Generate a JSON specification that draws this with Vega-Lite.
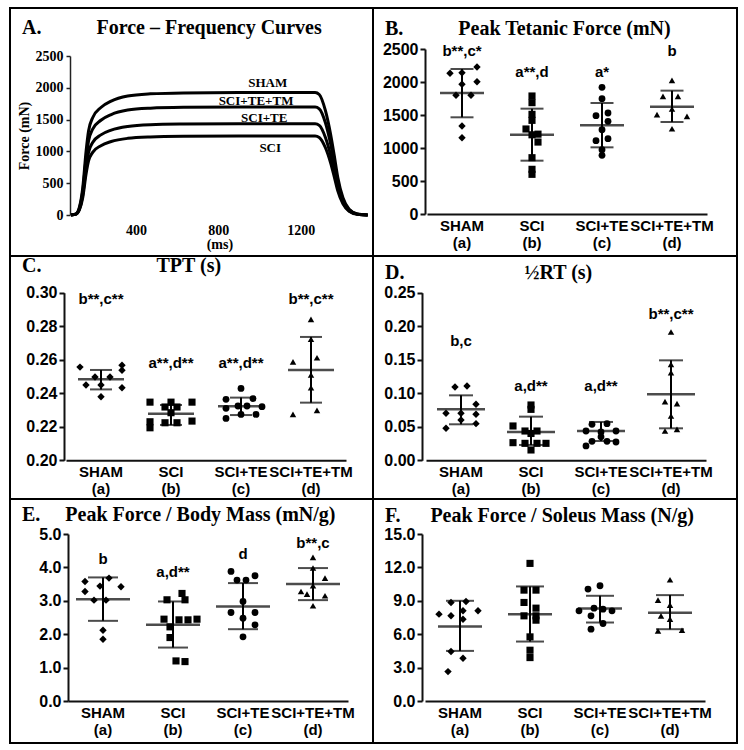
{
"$schema": "https://vega.github.io/schema/vega-lite/v6.json",
"background": "white",
"padding": {"left": 9, "top": 7, "right": 8, "bottom": 8},
"bounds": "flush",
"spacing": 0,
"columns": 2,
"config": {"view": {"stroke": "black", "strokeWidth": 2}, "axis": {"grid": false}},
"datasets": {
"curves": [
{"g":"SHAM","t":85,"v":0},{"g":"SHAM","t":110,"v":20},{"g":"SHAM","t":125,"v":115},{"g":"SHAM","t":142,"v":430},{"g":"SHAM","t":158,"v":1000},{"g":"SHAM","t":170,"v":1320},{"g":"SHAM","t":190,"v":1530},{"g":"SHAM","t":230,"v":1690},{"g":"SHAM","t":280,"v":1790},{"g":"SHAM","t":360,"v":1870},{"g":"SHAM","t":470,"v":1905},{"g":"SHAM","t":630,"v":1920},{"g":"SHAM","t":900,"v":1925},{"g":"SHAM","t":1270,"v":1925},{"g":"SHAM","t":1290,"v":1895},{"g":"SHAM","t":1320,"v":1640},{"g":"SHAM","t":1345,"v":1270},{"g":"SHAM","t":1362,"v":950},{"g":"SHAM","t":1380,"v":590},{"g":"SHAM","t":1405,"v":270},{"g":"SHAM","t":1435,"v":90},{"g":"SHAM","t":1475,"v":16},{"g":"SHAM","t":1525,"v":0},
{"g":"TM","t":85,"v":0},{"g":"TM","t":110,"v":18},{"g":"TM","t":125,"v":100},{"g":"TM","t":142,"v":380},{"g":"TM","t":158,"v":880},{"g":"TM","t":170,"v":1165},{"g":"TM","t":190,"v":1350},{"g":"TM","t":230,"v":1490},{"g":"TM","t":280,"v":1580},{"g":"TM","t":360,"v":1650},{"g":"TM","t":470,"v":1680},{"g":"TM","t":630,"v":1693},{"g":"TM","t":900,"v":1698},{"g":"TM","t":1270,"v":1698},{"g":"TM","t":1290,"v":1670},{"g":"TM","t":1320,"v":1450},{"g":"TM","t":1345,"v":1120},{"g":"TM","t":1362,"v":840},{"g":"TM","t":1380,"v":520},{"g":"TM","t":1405,"v":240},{"g":"TM","t":1435,"v":80},{"g":"TM","t":1475,"v":14},{"g":"TM","t":1525,"v":0},
{"g":"TE","t":85,"v":0},{"g":"TE","t":110,"v":15},{"g":"TE","t":125,"v":86},{"g":"TE","t":142,"v":320},{"g":"TE","t":158,"v":745},{"g":"TE","t":170,"v":985},{"g":"TE","t":190,"v":1140},{"g":"TE","t":230,"v":1260},{"g":"TE","t":280,"v":1335},{"g":"TE","t":360,"v":1393},{"g":"TE","t":470,"v":1420},{"g":"TE","t":630,"v":1430},{"g":"TE","t":900,"v":1435},{"g":"TE","t":1270,"v":1435},{"g":"TE","t":1290,"v":1410},{"g":"TE","t":1320,"v":1220},{"g":"TE","t":1345,"v":945},{"g":"TE","t":1362,"v":710},{"g":"TE","t":1380,"v":440},{"g":"TE","t":1405,"v":200},{"g":"TE","t":1435,"v":67},{"g":"TE","t":1475,"v":12},{"g":"TE","t":1525,"v":0},
{"g":"SCI","t":85,"v":0},{"g":"SCI","t":110,"v":13},{"g":"SCI","t":125,"v":74},{"g":"SCI","t":142,"v":277},{"g":"SCI","t":158,"v":645},{"g":"SCI","t":170,"v":850},{"g":"SCI","t":190,"v":985},{"g":"SCI","t":230,"v":1090},{"g":"SCI","t":280,"v":1155},{"g":"SCI","t":360,"v":1205},{"g":"SCI","t":470,"v":1228},{"g":"SCI","t":630,"v":1238},{"g":"SCI","t":900,"v":1242},{"g":"SCI","t":1270,"v":1242},{"g":"SCI","t":1290,"v":1220},{"g":"SCI","t":1320,"v":1057},{"g":"SCI","t":1345,"v":820},{"g":"SCI","t":1362,"v":612},{"g":"SCI","t":1380,"v":380},{"g":"SCI","t":1405,"v":174},{"g":"SCI","t":1435,"v":58},{"g":"SCI","t":1475,"v":10},{"g":"SCI","t":1525,"v":0}
],
"clab": [
{"label":"SHAM","t":1040,"v":2075},{"label":"SCI+TE+TM","t":983,"v":1792},{"label":"SCI+TE","t":1023,"v":1520},{"label":"SCI","t":1052,"v":1058}
],
"pts": [
{"p":"B","g":"SHAM","v":2227,"s":5},{"p":"B","g":"SHAM","v":2132,"s":-4},{"p":"B","g":"SHAM","v":2141,"s":0},{"p":"B","g":"SHAM","v":1965,"s":0},{"p":"B","g":"SHAM","v":2005,"s":5},{"p":"B","g":"SHAM","v":1798,"s":-2},{"p":"B","g":"SHAM","v":1798,"s":3},{"p":"B","g":"SHAM","v":1333,"s":0},{"p":"B","g":"SHAM","v":1156,"s":0},
{"p":"B","g":"SCI","v":1788,"s":0},{"p":"B","g":"SCI","v":1687,"s":0},{"p":"B","g":"SCI","v":1510,"s":0},{"p":"B","g":"SCI","v":1419,"s":0},{"p":"B","g":"SCI","v":1288,"s":-2},{"p":"B","g":"SCI","v":1210,"s":2},{"p":"B","g":"SCI","v":1200,"s":0},{"p":"B","g":"SCI","v":1090,"s":2},{"p":"B","g":"SCI","v":853,"s":0},{"p":"B","g":"SCI","v":677,"s":0},{"p":"B","g":"SCI","v":601,"s":0},
{"p":"B","g":"SCI+TE","v":1919,"s":0},{"p":"B","g":"SCI+TE","v":1747,"s":0},{"p":"B","g":"SCI+TE","v":1490,"s":-2},{"p":"B","g":"SCI+TE","v":1530,"s":2},{"p":"B","g":"SCI+TE","v":1404,"s":2},{"p":"B","g":"SCI+TE","v":1278,"s":0},{"p":"B","g":"SCI+TE","v":1111,"s":-2},{"p":"B","g":"SCI+TE","v":1141,"s":2},{"p":"B","g":"SCI+TE","v":975,"s":0},{"p":"B","g":"SCI+TE","v":889,"s":0},
{"p":"B","g":"SCI+TE+TM","v":2025,"s":0},{"p":"B","g":"SCI+TE+TM","v":1783,"s":-3},{"p":"B","g":"SCI+TE+TM","v":1783,"s":2},{"p":"B","g":"SCI+TE+TM","v":1505,"s":-5},{"p":"B","g":"SCI+TE+TM","v":1480,"s":5},{"p":"B","g":"SCI+TE+TM","v":1591,"s":0},{"p":"B","g":"SCI+TE+TM","v":1292,"s":0},
{"p":"C","g":"SHAM","v":0.2556,"s":-7},{"p":"C","g":"SHAM","v":0.2567,"s":7},{"p":"C","g":"SHAM","v":0.2537,"s":7},{"p":"C","g":"SHAM","v":0.2433,"s":7},{"p":"C","g":"SHAM","v":0.2497,"s":-2},{"p":"C","g":"SHAM","v":0.2497,"s":3},{"p":"C","g":"SHAM","v":0.2449,"s":-5},{"p":"C","g":"SHAM","v":0.2449,"s":0},{"p":"C","g":"SHAM","v":0.2379,"s":0},
{"p":"C","g":"SCI","v":0.2347,"s":-7},{"p":"C","g":"SCI","v":0.2347,"s":0},{"p":"C","g":"SCI","v":0.2347,"s":7},{"p":"C","g":"SCI","v":0.2318,"s":-2},{"p":"C","g":"SCI","v":0.2318,"s":2},{"p":"C","g":"SCI","v":0.2284,"s":0},{"p":"C","g":"SCI","v":0.2234,"s":7},{"p":"C","g":"SCI","v":0.2230,"s":-7},{"p":"C","g":"SCI","v":0.2194,"s":-7},{"p":"C","g":"SCI","v":0.2224,"s":-2},{"p":"C","g":"SCI","v":0.2224,"s":2},
{"p":"C","g":"SCI+TE","v":0.2429,"s":0},{"p":"C","g":"SCI+TE","v":0.2364,"s":-5},{"p":"C","g":"SCI+TE","v":0.2368,"s":4},{"p":"C","g":"SCI+TE","v":0.2310,"s":-5},{"p":"C","g":"SCI+TE","v":0.2324,"s":-1},{"p":"C","g":"SCI+TE","v":0.2324,"s":2},{"p":"C","g":"SCI+TE","v":0.2320,"s":7},{"p":"C","g":"SCI+TE","v":0.2250,"s":-5},{"p":"C","g":"SCI+TE","v":0.2274,"s":0},{"p":"C","g":"SCI+TE","v":0.2274,"s":5},
{"p":"C","g":"SCI+TE+TM","v":0.2841,"s":0},{"p":"C","g":"SCI+TE+TM","v":0.2722,"s":0},{"p":"C","g":"SCI+TE+TM","v":0.2587,"s":-6},{"p":"C","g":"SCI+TE+TM","v":0.2612,"s":2},{"p":"C","g":"SCI+TE+TM","v":0.2509,"s":0},{"p":"C","g":"SCI+TE+TM","v":0.2433,"s":0},{"p":"C","g":"SCI+TE+TM","v":0.2274,"s":-6},{"p":"C","g":"SCI+TE+TM","v":0.2298,"s":2},
{"p":"D","g":"SHAM","v":0.1093,"s":-2},{"p":"D","g":"SHAM","v":0.1108,"s":2},{"p":"D","g":"SHAM","v":0.0835,"s":5},{"p":"D","g":"SHAM","v":0.0701,"s":-5},{"p":"D","g":"SHAM","v":0.0701,"s":0},{"p":"D","g":"SHAM","v":0.0601,"s":0},{"p":"D","g":"SHAM","v":0.0547,"s":5},{"p":"D","g":"SHAM","v":0.0477,"s":-5},{"p":"D","g":"SHAM","v":0.0686,"s":5},
{"p":"D","g":"SCI","v":0.0825,"s":0},{"p":"D","g":"SCI","v":0.0760,"s":0},{"p":"D","g":"SCI","v":0.0512,"s":-6},{"p":"D","g":"SCI","v":0.0437,"s":-2},{"p":"D","g":"SCI","v":0.0437,"s":2},{"p":"D","g":"SCI","v":0.0263,"s":-6},{"p":"D","g":"SCI","v":0.0253,"s":-2},{"p":"D","g":"SCI","v":0.0253,"s":2},{"p":"D","g":"SCI","v":0.0253,"s":5},{"p":"D","g":"SCI","v":0.0154,"s":0},{"p":"D","g":"SCI","v":0.0400,"s":0},
{"p":"D","g":"SCI+TE","v":0.0537,"s":-3},{"p":"D","g":"SCI+TE","v":0.0547,"s":2},{"p":"D","g":"SCI+TE","v":0.0437,"s":-5},{"p":"D","g":"SCI+TE","v":0.0437,"s":5},{"p":"D","g":"SCI+TE","v":0.0422,"s":0},{"p":"D","g":"SCI+TE","v":0.0283,"s":-3},{"p":"D","g":"SCI+TE","v":0.0283,"s":2},{"p":"D","g":"SCI+TE","v":0.0273,"s":5},{"p":"D","g":"SCI+TE","v":0.0214,"s":-5},{"p":"D","g":"SCI+TE","v":0.0350,"s":0},
{"p":"D","g":"SCI+TE+TM","v":0.1913,"s":0},{"p":"D","g":"SCI+TE+TM","v":0.1431,"s":0},{"p":"D","g":"SCI+TE+TM","v":0.1307,"s":0},{"p":"D","g":"SCI+TE+TM","v":0.0875,"s":-2},{"p":"D","g":"SCI+TE+TM","v":0.0845,"s":2},{"p":"D","g":"SCI+TE+TM","v":0.0661,"s":0},{"p":"D","g":"SCI+TE+TM","v":0.0437,"s":-2},{"p":"D","g":"SCI+TE+TM","v":0.0462,"s":2},
{"p":"E","g":"SHAM","v":3.58,"s":-6},{"p":"E","g":"SHAM","v":3.68,"s":2},{"p":"E","g":"SHAM","v":3.44,"s":-1},{"p":"E","g":"SHAM","v":3.42,"s":6},{"p":"E","g":"SHAM","v":3.28,"s":-6},{"p":"E","g":"SHAM","v":3.02,"s":-3},{"p":"E","g":"SHAM","v":3.02,"s":1},{"p":"E","g":"SHAM","v":2.12,"s":0},{"p":"E","g":"SHAM","v":1.85,"s":0},
{"p":"E","g":"SCI","v":3.22,"s":3},{"p":"E","g":"SCI","v":3.03,"s":-2},{"p":"E","g":"SCI","v":3.03,"s":4},{"p":"E","g":"SCI","v":2.45,"s":-3},{"p":"E","g":"SCI","v":2.43,"s":2},{"p":"E","g":"SCI","v":2.43,"s":5},{"p":"E","g":"SCI","v":2.45,"s":8},{"p":"E","g":"SCI","v":2.22,"s":-1},{"p":"E","g":"SCI","v":1.90,"s":-1},{"p":"E","g":"SCI","v":1.20,"s":1},{"p":"E","g":"SCI","v":1.18,"s":4},
{"p":"E","g":"SCI+TE","v":3.88,"s":-4},{"p":"E","g":"SCI+TE","v":3.75,"s":4},{"p":"E","g":"SCI+TE","v":3.62,"s":-2},{"p":"E","g":"SCI+TE","v":3.62,"s":1},{"p":"E","g":"SCI+TE","v":2.98,"s":0},{"p":"E","g":"SCI+TE","v":2.65,"s":-4},{"p":"E","g":"SCI+TE","v":2.65,"s":4},{"p":"E","g":"SCI+TE","v":2.48,"s":0},{"p":"E","g":"SCI+TE","v":2.28,"s":4},{"p":"E","g":"SCI+TE","v":1.92,"s":0},
{"p":"E","g":"SCI+TE+TM","v":4.30,"s":0},{"p":"E","g":"SCI+TE+TM","v":3.98,"s":0},{"p":"E","g":"SCI+TE+TM","v":3.68,"s":4},{"p":"E","g":"SCI+TE+TM","v":3.28,"s":-4},{"p":"E","g":"SCI+TE+TM","v":3.45,"s":0},{"p":"E","g":"SCI+TE+TM","v":3.15,"s":4},{"p":"E","g":"SCI+TE+TM","v":3.20,"s":-2},{"p":"E","g":"SCI+TE+TM","v":2.85,"s":0},
{"p":"F","g":"SHAM","v":8.85,"s":-3},{"p":"F","g":"SHAM","v":8.94,"s":2},{"p":"F","g":"SHAM","v":8.10,"s":1},{"p":"F","g":"SHAM","v":8.10,"s":6},{"p":"F","g":"SHAM","v":7.80,"s":-7},{"p":"F","g":"SHAM","v":7.65,"s":-3},{"p":"F","g":"SHAM","v":7.35,"s":1},{"p":"F","g":"SHAM","v":4.44,"s":-3},{"p":"F","g":"SHAM","v":3.84,"s":1},{"p":"F","g":"SHAM","v":2.64,"s":-4},
{"p":"F","g":"SCI","v":12.36,"s":0},{"p":"F","g":"SCI","v":9.96,"s":-2},{"p":"F","g":"SCI","v":9.96,"s":2},{"p":"F","g":"SCI","v":8.85,"s":-2},{"p":"F","g":"SCI","v":8.34,"s":2},{"p":"F","g":"SCI","v":7.65,"s":-2},{"p":"F","g":"SCI","v":7.65,"s":2},{"p":"F","g":"SCI","v":7.26,"s":2},{"p":"F","g":"SCI","v":5.76,"s":0},{"p":"F","g":"SCI","v":4.56,"s":0},{"p":"F","g":"SCI","v":3.90,"s":0},
{"p":"F","g":"SCI+TE","v":10.05,"s":-4},{"p":"F","g":"SCI+TE","v":10.35,"s":0},{"p":"F","g":"SCI+TE","v":8.10,"s":-7},{"p":"F","g":"SCI+TE","v":8.34,"s":-2},{"p":"F","g":"SCI+TE","v":8.25,"s":1},{"p":"F","g":"SCI+TE","v":8.10,"s":4},{"p":"F","g":"SCI+TE","v":7.65,"s":-3},{"p":"F","g":"SCI+TE","v":6.96,"s":1},{"p":"F","g":"SCI+TE","v":6.45,"s":-3},
{"p":"F","g":"SCI+TE+TM","v":10.89,"s":0},{"p":"F","g":"SCI+TE+TM","v":9.06,"s":-4},{"p":"F","g":"SCI+TE+TM","v":8.61,"s":0},{"p":"F","g":"SCI+TE+TM","v":7.65,"s":-3},{"p":"F","g":"SCI+TE+TM","v":7.35,"s":0},{"p":"F","g":"SCI+TE+TM","v":6.30,"s":-4},{"p":"F","g":"SCI+TE+TM","v":6.36,"s":4}
],
"sum": [
{"p":"B","g":"SHAM","m":1833,"lo":1465,"hi":2197},{"p":"B","g":"SCI","m":1202,"lo":808,"hi":1596},{"p":"B","g":"SCI+TE","m":1343,"lo":1010,"hi":1682},{"p":"B","g":"SCI+TE+TM","m":1626,"lo":1394,"hi":1869},
{"p":"C","g":"SHAM","m":0.2483,"lo":0.2423,"hi":0.2539},{"p":"C","g":"SCI","m":0.2278,"lo":0.2211,"hi":0.2330},{"p":"C","g":"SCI+TE","m":0.2322,"lo":0.2270,"hi":0.2374},{"p":"C","g":"SCI+TE+TM","m":0.2539,"lo":0.2344,"hi":0.2736},
{"p":"D","g":"SHAM","m":0.0760,"lo":0.0537,"hi":0.0969},{"p":"D","g":"SCI","m":0.0422,"lo":0.0229,"hi":0.0651},{"p":"D","g":"SCI+TE","m":0.0437,"lo":0.0288,"hi":0.0572},{"p":"D","g":"SCI+TE+TM","m":0.0984,"lo":0.0477,"hi":0.1491},
{"p":"E","g":"SHAM","m":3.05,"lo":2.40,"hi":3.70},{"p":"E","g":"SCI","m":2.28,"lo":1.60,"hi":2.98},{"p":"E","g":"SCI+TE","m":2.83,"lo":2.15,"hi":3.53},{"p":"E","g":"SCI+TE+TM","m":3.50,"lo":3.02,"hi":3.98},
{"p":"F","g":"SHAM","m":6.69,"lo":4.50,"hi":9.00},{"p":"F","g":"SCI","m":7.80,"lo":5.34,"hi":10.29},{"p":"F","g":"SCI+TE","m":8.31,"lo":7.05,"hi":9.45},{"p":"F","g":"SCI+TE+TM","m":7.92,"lo":6.45,"hi":9.51}
],
"ann": [
{"p":"B","g":"SHAM","t":"b**,c*","v":2475},{"p":"B","g":"SCI","t":"a**,d","v":2151},{"p":"B","g":"SCI+TE","t":"a*","v":2151},{"p":"B","g":"SCI+TE+TM","t":"b","v":2475},
{"p":"C","g":"SHAM","t":"b**,c**","v":0.2964},{"p":"C","g":"SCI","t":"a**,d**","v":0.2582},{"p":"C","g":"SCI+TE","t":"a**,d**","v":0.2582},{"p":"C","g":"SCI+TE+TM","t":"b**,c**","v":0.2964},
{"p":"D","g":"SHAM","t":"b,c","v":0.1779},{"p":"D","g":"SCI","t":"a,d**","v":0.1108},{"p":"D","g":"SCI+TE","t":"a,d**","v":0.1108},{"p":"D","g":"SCI+TE+TM","t":"b**,c**","v":0.2187},
{"p":"E","g":"SHAM","t":"b","v":4.25},{"p":"E","g":"SCI","t":"a,d**","v":3.85},{"p":"E","g":"SCI+TE","t":"d","v":4.40},{"p":"E","g":"SCI+TE+TM","t":"b**,c","v":4.72}
]
},
"concat": [
{
"width": 363, "height": 248,
"title": {"text": "A.\u00a0\u00a0\u00a0\u00a0\u00a0\u00a0\u00a0\u00a0\u00a0\u00a0\u00a0Force – Frequency Curves", "anchor": "start", "frame": "group", "dx": 12, "offset": -46, "baseline": "alphabetic", "font": "Liberation Serif", "fontSize": 20, "fontWeight": "bold", "color": "black"},
"layer": [
{"data": {"name": "curves"}, "mark": {"type": "line", "color": "black", "strokeWidth": 3, "interpolate": "monotone"},
"encoding": {
"x": {"field": "t", "type": "quantitative", "scale": {"domain": [80, 1530], "range": [60, 358.7], "nice": false, "zero": false}, "axis": {"orient": "bottom", "offset": -41, "values": [400, 800, 1200], "format": "d", "domain": false, "ticks": false, "labelFont": "Liberation Serif", "labelFontSize": 14, "labelFontWeight": "bold", "labelColor": "black", "labelPadding": 8, "title": "(ms)", "titleFont": "Liberation Serif", "titleFontSize": 14, "titleFontWeight": "bold", "titleColor": "black", "titlePadding": 0}},
"y": {"field": "v", "type": "quantitative", "scale": {"domain": [0, 2500], "range": [207, 48], "nice": false}, "axis": {"orient": "left", "offset": -60, "values": [0, 500, 1000, 1500, 2000, 2500], "format": "d", "tickSize": 4, "tickWidth": 1.5, "tickColor": "#222", "domainColor": "#222", "domainWidth": 1.5, "labelFont": "Liberation Serif", "labelFontSize": 14, "labelFontWeight": "bold", "labelColor": "black", "labelPadding": 3, "title": "Force (mN)", "titleFont": "Liberation Serif", "titleFontSize": 14, "titleFontWeight": "bold", "titleColor": "black", "titlePadding": 4}},
"detail": {"field": "g"}
}},
{"data": {"name": "clab"}, "mark": {"type": "text", "font": "Liberation Serif", "fontSize": 13, "fontWeight": "bold", "color": "black", "baseline": "middle", "align": "center"},
"encoding": {
"x": {"field": "t", "type": "quantitative", "scale": {"domain": [80, 1530], "range": [60, 358.7], "nice": false, "zero": false}},
"y": {"field": "v", "type": "quantitative", "scale": {"domain": [0, 2500], "range": [207, 48], "nice": false}},
"text": {"field": "label"}
}}
]
},
{
"width": 364, "height": 248,
"title": {"text": "B.\u00a0\u00a0\u00a0\u00a0\u00a0\u00a0\u00a0\u00a0\u00a0\u00a0\u00a0Peak Tetanic Force (mN)", "anchor": "start", "frame": "group", "dx": 12, "offset": -47, "baseline": "alphabetic", "font": "Liberation Serif", "fontSize": 20, "fontWeight": "bold", "color": "black"},
"encoding": {
"x": {"field": "g", "type": "nominal", "scale": {"type": "band", "domain": ["SHAM", "SCI", "SCI+TE", "SCI+TE+TM"], "range": [54, 334], "paddingInner": 0.2714, "paddingOuter": 0.1357}, "axis": {"orient": "bottom", "offset": -42, "title": null, "ticks": false, "domainColor": "#111", "domainWidth": 2, "labelFont": "Liberation Sans", "labelFontSize": 15, "labelFontWeight": "bold", "labelColor": "black", "labelAngle": 0, "labelPadding": 4, "labelLineHeight": 17, "labelOverlap": false, "labelBound": false, "labelFlush": false, "labelExpr": "[datum.label, datum.label == 'SHAM' ? '(a)' : datum.label == 'SCI' ? '(b)' : datum.label == 'SCI+TE' ? '(c)' : '(d)']"}}
},
"layer": [
{"data": {"name": "pts"}, "transform": [{"filter": "datum.p == 'B'"}], "mark": {"type": "point", "filled": true, "color": "black", "opacity": 1},
"encoding": {
"xOffset": {"field": "s", "type": "ordinal", "scale": {"domain": [-8,-7,-6,-5,-4,-3,-2,-1,0,1,2,3,4,5,6,7,8]}},
"y": {"field": "v", "type": "quantitative", "scale": {"domain": [0, 2500], "range": [206, 41], "nice": false, "zero": false}, "axis": {"orient": "left", "offset": -52, "title": null, "values": [0, 500, 1000, 1500, 2000, 2500], "format": "d", "tickSize": 5, "tickWidth": 2, "tickColor": "#111", "domainColor": "#111", "domainWidth": 2, "labelFont": "Liberation Sans", "labelFontSize": 16, "labelFontWeight": "bold", "labelColor": "black", "labelPadding": 2, "labelOverlap": false, "labelBound": false, "labelFlush": false}},
"shape": {"field": "g", "type": "nominal", "scale": {"domain": ["SHAM", "SCI", "SCI+TE", "SCI+TE+TM"], "range": ["diamond", "square", "circle", "triangle-up"]}, "legend": null},
"size": {"field": "g", "type": "nominal", "scale": {"domain": ["SHAM", "SCI", "SCI+TE", "SCI+TE+TM"], "range": [55, 42, 45, 58]}, "legend": null}
}},
{"data": {"name": "sum"}, "transform": [{"filter": "datum.p == 'B'"}], "mark": {"type": "rule", "color": "black", "strokeWidth": 2},
"encoding": {"y": {"field": "lo", "type": "quantitative", "scale": {"domain": [0, 2500], "range": [206, 41], "nice": false, "zero": false}}, "y2": {"field": "hi"}}},
{"data": {"name": "sum"}, "transform": [{"filter": "datum.p == 'B'"}], "mark": {"type": "tick", "orient": "horizontal", "color": "black", "size": 44, "thickness": 2.5},
"encoding": {"y": {"field": "m", "type": "quantitative", "scale": {"domain": [0, 2500], "range": [206, 41], "nice": false, "zero": false}}}},
{"data": {"name": "sum"}, "transform": [{"filter": "datum.p == 'B'"}], "mark": {"type": "tick", "orient": "horizontal", "color": "black", "size": 23, "thickness": 2},
"encoding": {"y": {"field": "lo", "type": "quantitative", "scale": {"domain": [0, 2500], "range": [206, 41], "nice": false, "zero": false}}}},
{"data": {"name": "sum"}, "transform": [{"filter": "datum.p == 'B'"}], "mark": {"type": "tick", "orient": "horizontal", "color": "black", "size": 23, "thickness": 2},
"encoding": {"y": {"field": "hi", "type": "quantitative", "scale": {"domain": [0, 2500], "range": [206, 41], "nice": false, "zero": false}}}},
{"data": {"name": "ann"}, "transform": [{"filter": "datum.p == 'B'"}], "mark": {"type": "text", "font": "Liberation Sans", "fontSize": 15, "fontWeight": "bold", "color": "black", "baseline": "middle", "align": "center"},
"encoding": {"y": {"field": "v", "type": "quantitative", "scale": {"domain": [0, 2500], "range": [206, 41], "nice": false, "zero": false}}, "text": {"field": "t"}}}
]
},
{
"width": 363, "height": 243,
"title": {"text": "C.\u00a0\u00a0\u00a0\u00a0\u00a0\u00a0\u00a0\u00a0\u00a0\u00a0\u00a0\u00a0\u00a0\u00a0\u00a0\u00a0\u00a0\u00a0\u00a0\u00a0\u00a0\u00a0\u00a0TPT (s)", "anchor": "start", "frame": "group", "dx": 12, "offset": -36, "baseline": "alphabetic", "font": "Liberation Serif", "fontSize": 20, "fontWeight": "bold", "color": "black"},
"encoding": {
"x": {"field": "g", "type": "nominal", "scale": {"type": "band", "domain": ["SHAM", "SCI", "SCI+TE", "SCI+TE+TM"], "range": [56, 336], "paddingInner": 0.2714, "paddingOuter": 0.1357}, "axis": {"orient": "bottom", "offset": -38.7, "title": null, "ticks": false, "domainColor": "#111", "domainWidth": 2, "labelFont": "Liberation Sans", "labelFontSize": 15, "labelFontWeight": "bold", "labelColor": "black", "labelAngle": 0, "labelPadding": 4, "labelLineHeight": 17, "labelOverlap": false, "labelBound": false, "labelFlush": false, "labelExpr": "[datum.label, datum.label == 'SHAM' ? '(a)' : datum.label == 'SCI' ? '(b)' : datum.label == 'SCI+TE' ? '(c)' : '(d)']"}}
},
"layer": [
{"data": {"name": "pts"}, "transform": [{"filter": "datum.p == 'C'"}], "mark": {"type": "point", "filled": true, "color": "black", "opacity": 1},
"encoding": {
"xOffset": {"field": "s", "type": "ordinal", "scale": {"domain": [-8,-7,-6,-5,-4,-3,-2,-1,0,1,2,3,4,5,6,7,8]}},
"y": {"field": "v", "type": "quantitative", "scale": {"domain": [0.2, 0.3], "range": [204.3, 36.7], "nice": false, "zero": false}, "axis": {"orient": "left", "offset": -54, "title": null, "values": [0.2, 0.22, 0.24, 0.26, 0.28, 0.3], "format": ".2f", "tickSize": 5, "tickWidth": 2, "tickColor": "#111", "domainColor": "#111", "domainWidth": 2, "labelFont": "Liberation Sans", "labelFontSize": 16, "labelFontWeight": "bold", "labelColor": "black", "labelPadding": 2, "labelOverlap": false, "labelBound": false, "labelFlush": false}},
"shape": {"field": "g", "type": "nominal", "scale": {"domain": ["SHAM", "SCI", "SCI+TE", "SCI+TE+TM"], "range": ["diamond", "square", "circle", "triangle-up"]}, "legend": null},
"size": {"field": "g", "type": "nominal", "scale": {"domain": ["SHAM", "SCI", "SCI+TE", "SCI+TE+TM"], "range": [55, 42, 45, 58]}, "legend": null}
}},
{"data": {"name": "sum"}, "transform": [{"filter": "datum.p == 'C'"}], "mark": {"type": "rule", "color": "black", "strokeWidth": 2},
"encoding": {"y": {"field": "lo", "type": "quantitative", "scale": {"domain": [0.2, 0.3], "range": [204.3, 36.7], "nice": false, "zero": false}}, "y2": {"field": "hi"}}},
{"data": {"name": "sum"}, "transform": [{"filter": "datum.p == 'C'"}], "mark": {"type": "tick", "orient": "horizontal", "color": "black", "size": 46, "thickness": 2.5},
"encoding": {"y": {"field": "m", "type": "quantitative", "scale": {"domain": [0.2, 0.3], "range": [204.3, 36.7], "nice": false, "zero": false}}}},
{"data": {"name": "sum"}, "transform": [{"filter": "datum.p == 'C'"}], "mark": {"type": "tick", "orient": "horizontal", "color": "black", "size": 22, "thickness": 2},
"encoding": {"y": {"field": "lo", "type": "quantitative", "scale": {"domain": [0.2, 0.3], "range": [204.3, 36.7], "nice": false, "zero": false}}}},
{"data": {"name": "sum"}, "transform": [{"filter": "datum.p == 'C'"}], "mark": {"type": "tick", "orient": "horizontal", "color": "black", "size": 22, "thickness": 2},
"encoding": {"y": {"field": "hi", "type": "quantitative", "scale": {"domain": [0.2, 0.3], "range": [204.3, 36.7], "nice": false, "zero": false}}}},
{"data": {"name": "ann"}, "transform": [{"filter": "datum.p == 'C'"}], "mark": {"type": "text", "font": "Liberation Sans", "fontSize": 15, "fontWeight": "bold", "color": "black", "baseline": "middle", "align": "center"},
"encoding": {"y": {"field": "v", "type": "quantitative", "scale": {"domain": [0.2, 0.3], "range": [204.3, 36.7], "nice": false, "zero": false}}, "text": {"field": "t"}}}
]
},
{
"width": 364, "height": 243,
"title": {"text": "D.\u00a0\u00a0\u00a0\u00a0\u00a0\u00a0\u00a0\u00a0\u00a0\u00a0\u00a0\u00a0\u00a0\u00a0\u00a0\u00a0\u00a0\u00a0\u00a0\u00a0\u00a0\u00a0\u00a0\u00a0½RT (s)", "anchor": "start", "frame": "group", "dx": 12, "offset": -43, "baseline": "alphabetic", "font": "Liberation Serif", "fontSize": 20, "fontWeight": "bold", "color": "black"},
"encoding": {
"x": {"field": "g", "type": "nominal", "scale": {"type": "band", "domain": ["SHAM", "SCI", "SCI+TE", "SCI+TE+TM"], "range": [53, 333], "paddingInner": 0.2714, "paddingOuter": 0.1357}, "axis": {"orient": "bottom", "offset": -38.7, "title": null, "ticks": false, "domainColor": "#111", "domainWidth": 2, "labelFont": "Liberation Sans", "labelFontSize": 15, "labelFontWeight": "bold", "labelColor": "black", "labelAngle": 0, "labelPadding": 4, "labelLineHeight": 17, "labelOverlap": false, "labelBound": false, "labelFlush": false, "labelExpr": "[datum.label, datum.label == 'SHAM' ? '(a)' : datum.label == 'SCI' ? '(b)' : datum.label == 'SCI+TE' ? '(c)' : '(d)']"}}
},
"layer": [
{"data": {"name": "pts"}, "transform": [{"filter": "datum.p == 'D'"}], "mark": {"type": "point", "filled": true, "color": "black", "opacity": 1},
"encoding": {
"xOffset": {"field": "s", "type": "ordinal", "scale": {"domain": [-8,-7,-6,-5,-4,-3,-2,-1,0,1,2,3,4,5,6,7,8]}},
"y": {"field": "v", "type": "quantitative", "scale": {"domain": [0, 0.25], "range": [204.3, 36.7], "nice": false, "zero": false}, "axis": {"orient": "left", "offset": -49, "title": null, "values": [0, 0.05, 0.1, 0.15, 0.2, 0.25], "format": ".2f", "tickSize": 5, "tickWidth": 2, "tickColor": "#111", "domainColor": "#111", "domainWidth": 2, "labelFont": "Liberation Sans", "labelFontSize": 16, "labelFontWeight": "bold", "labelColor": "black", "labelPadding": 2, "labelOverlap": false, "labelBound": false, "labelFlush": false}},
"shape": {"field": "g", "type": "nominal", "scale": {"domain": ["SHAM", "SCI", "SCI+TE", "SCI+TE+TM"], "range": ["diamond", "square", "circle", "triangle-up"]}, "legend": null},
"size": {"field": "g", "type": "nominal", "scale": {"domain": ["SHAM", "SCI", "SCI+TE", "SCI+TE+TM"], "range": [55, 42, 45, 58]}, "legend": null}
}},
{"data": {"name": "sum"}, "transform": [{"filter": "datum.p == 'D'"}], "mark": {"type": "rule", "color": "black", "strokeWidth": 2},
"encoding": {"y": {"field": "lo", "type": "quantitative", "scale": {"domain": [0, 0.25], "range": [204.3, 36.7], "nice": false, "zero": false}}, "y2": {"field": "hi"}}},
{"data": {"name": "sum"}, "transform": [{"filter": "datum.p == 'D'"}], "mark": {"type": "tick", "orient": "horizontal", "color": "black", "size": 48, "thickness": 2.5},
"encoding": {"y": {"field": "m", "type": "quantitative", "scale": {"domain": [0, 0.25], "range": [204.3, 36.7], "nice": false, "zero": false}}}},
{"data": {"name": "sum"}, "transform": [{"filter": "datum.p == 'D'"}], "mark": {"type": "tick", "orient": "horizontal", "color": "black", "size": 24, "thickness": 2},
"encoding": {"y": {"field": "lo", "type": "quantitative", "scale": {"domain": [0, 0.25], "range": [204.3, 36.7], "nice": false, "zero": false}}}},
{"data": {"name": "sum"}, "transform": [{"filter": "datum.p == 'D'"}], "mark": {"type": "tick", "orient": "horizontal", "color": "black", "size": 24, "thickness": 2},
"encoding": {"y": {"field": "hi", "type": "quantitative", "scale": {"domain": [0, 0.25], "range": [204.3, 36.7], "nice": false, "zero": false}}}},
{"data": {"name": "ann"}, "transform": [{"filter": "datum.p == 'D'"}], "mark": {"type": "text", "font": "Liberation Sans", "fontSize": 15, "fontWeight": "bold", "color": "black", "baseline": "middle", "align": "center"},
"encoding": {"y": {"field": "v", "type": "quantitative", "scale": {"domain": [0, 0.25], "range": [204.3, 36.7], "nice": false, "zero": false}}, "text": {"field": "t"}}}
]
},
{
"width": 363, "height": 244,
"title": {"text": "E.\u00a0\u00a0\u00a0\u00a0\u00a0Peak Force / Body Mass (mN/g)", "anchor": "start", "frame": "group", "dx": 12, "offset": -42, "baseline": "alphabetic", "font": "Liberation Serif", "fontSize": 20, "fontWeight": "bold", "color": "black"},
"encoding": {
"x": {"field": "g", "type": "nominal", "scale": {"type": "band", "domain": ["SHAM", "SCI", "SCI+TE", "SCI+TE+TM"], "range": [58, 338], "paddingInner": 0.2714, "paddingOuter": 0.1357}, "axis": {"orient": "bottom", "offset": -42, "title": null, "ticks": false, "domainColor": "#111", "domainWidth": 2, "labelFont": "Liberation Sans", "labelFontSize": 15, "labelFontWeight": "bold", "labelColor": "black", "labelAngle": 0, "labelPadding": 4, "labelLineHeight": 17, "labelOverlap": false, "labelBound": false, "labelFlush": false, "labelExpr": "[datum.label, datum.label == 'SHAM' ? '(a)' : datum.label == 'SCI' ? '(b)' : datum.label == 'SCI+TE' ? '(c)' : '(d)']"}}
},
"layer": [
{"data": {"name": "pts"}, "transform": [{"filter": "datum.p == 'E'"}], "mark": {"type": "point", "filled": true, "color": "black", "opacity": 1},
"encoding": {
"xOffset": {"field": "s", "type": "ordinal", "scale": {"domain": [-8,-7,-6,-5,-4,-3,-2,-1,0,1,2,3,4,5,6,7,8]}},
"y": {"field": "v", "type": "quantitative", "scale": {"domain": [0, 5], "range": [202, 35], "nice": false, "zero": false}, "axis": {"orient": "left", "offset": -58, "title": null, "values": [0, 1, 2, 3, 4, 5], "format": ".1f", "tickSize": 5, "tickWidth": 2, "tickColor": "#111", "domainColor": "#111", "domainWidth": 2, "labelFont": "Liberation Sans", "labelFontSize": 16, "labelFontWeight": "bold", "labelColor": "black", "labelPadding": 2, "labelOverlap": false, "labelBound": false, "labelFlush": false}},
"shape": {"field": "g", "type": "nominal", "scale": {"domain": ["SHAM", "SCI", "SCI+TE", "SCI+TE+TM"], "range": ["diamond", "square", "circle", "triangle-up"]}, "legend": null},
"size": {"field": "g", "type": "nominal", "scale": {"domain": ["SHAM", "SCI", "SCI+TE", "SCI+TE+TM"], "range": [55, 42, 45, 58]}, "legend": null}
}},
{"data": {"name": "sum"}, "transform": [{"filter": "datum.p == 'E'"}], "mark": {"type": "rule", "color": "black", "strokeWidth": 2},
"encoding": {"y": {"field": "lo", "type": "quantitative", "scale": {"domain": [0, 5], "range": [202, 35], "nice": false, "zero": false}}, "y2": {"field": "hi"}}},
{"data": {"name": "sum"}, "transform": [{"filter": "datum.p == 'E'"}], "mark": {"type": "tick", "orient": "horizontal", "color": "black", "size": 54, "thickness": 2.5},
"encoding": {"y": {"field": "m", "type": "quantitative", "scale": {"domain": [0, 5], "range": [202, 35], "nice": false, "zero": false}}}},
{"data": {"name": "sum"}, "transform": [{"filter": "datum.p == 'E'"}], "mark": {"type": "tick", "orient": "horizontal", "color": "black", "size": 30, "thickness": 2},
"encoding": {"y": {"field": "lo", "type": "quantitative", "scale": {"domain": [0, 5], "range": [202, 35], "nice": false, "zero": false}}}},
{"data": {"name": "sum"}, "transform": [{"filter": "datum.p == 'E'"}], "mark": {"type": "tick", "orient": "horizontal", "color": "black", "size": 30, "thickness": 2},
"encoding": {"y": {"field": "hi", "type": "quantitative", "scale": {"domain": [0, 5], "range": [202, 35], "nice": false, "zero": false}}}},
{"data": {"name": "ann"}, "transform": [{"filter": "datum.p == 'E'"}], "mark": {"type": "text", "font": "Liberation Sans", "fontSize": 15, "fontWeight": "bold", "color": "black", "baseline": "middle", "align": "center"},
"encoding": {"y": {"field": "v", "type": "quantitative", "scale": {"domain": [0, 5], "range": [202, 35], "nice": false, "zero": false}}, "text": {"field": "t"}}}
]
},
{
"width": 364, "height": 244,
"title": {"text": "F.\u00a0\u00a0\u00a0\u00a0\u00a0\u00a0Peak Force / Soleus Mass (N/g)", "anchor": "start", "frame": "group", "dx": 12, "offset": -43, "baseline": "alphabetic", "font": "Liberation Serif", "fontSize": 20, "fontWeight": "bold", "color": "black"},
"encoding": {
"x": {"field": "g", "type": "nominal", "scale": {"type": "band", "domain": ["SHAM", "SCI", "SCI+TE", "SCI+TE+TM"], "range": [52, 332], "paddingInner": 0.2714, "paddingOuter": 0.1357}, "axis": {"orient": "bottom", "offset": -42, "title": null, "ticks": false, "domainColor": "#111", "domainWidth": 2, "labelFont": "Liberation Sans", "labelFontSize": 15, "labelFontWeight": "bold", "labelColor": "black", "labelAngle": 0, "labelPadding": 4, "labelLineHeight": 17, "labelOverlap": false, "labelBound": false, "labelFlush": false, "labelExpr": "[datum.label, datum.label == 'SHAM' ? '(a)' : datum.label == 'SCI' ? '(b)' : datum.label == 'SCI+TE' ? '(c)' : '(d)']"}}
},
"layer": [
{"data": {"name": "pts"}, "transform": [{"filter": "datum.p == 'F'"}], "mark": {"type": "point", "filled": true, "color": "black", "opacity": 1},
"encoding": {
"xOffset": {"field": "s", "type": "ordinal", "scale": {"domain": [-8,-7,-6,-5,-4,-3,-2,-1,0,1,2,3,4,5,6,7,8]}},
"y": {"field": "v", "type": "quantitative", "scale": {"domain": [0, 15], "range": [202, 35], "nice": false, "zero": false}, "axis": {"orient": "left", "offset": -49, "title": null, "values": [0, 3, 6, 9, 12, 15], "format": ".1f", "tickSize": 5, "tickWidth": 2, "tickColor": "#111", "domainColor": "#111", "domainWidth": 2, "labelFont": "Liberation Sans", "labelFontSize": 16, "labelFontWeight": "bold", "labelColor": "black", "labelPadding": 2, "labelOverlap": false, "labelBound": false, "labelFlush": false}},
"shape": {"field": "g", "type": "nominal", "scale": {"domain": ["SHAM", "SCI", "SCI+TE", "SCI+TE+TM"], "range": ["diamond", "square", "circle", "triangle-up"]}, "legend": null},
"size": {"field": "g", "type": "nominal", "scale": {"domain": ["SHAM", "SCI", "SCI+TE", "SCI+TE+TM"], "range": [55, 42, 45, 58]}, "legend": null}
}},
{"data": {"name": "sum"}, "transform": [{"filter": "datum.p == 'F'"}], "mark": {"type": "rule", "color": "black", "strokeWidth": 2},
"encoding": {"y": {"field": "lo", "type": "quantitative", "scale": {"domain": [0, 15], "range": [202, 35], "nice": false, "zero": false}}, "y2": {"field": "hi"}}},
{"data": {"name": "sum"}, "transform": [{"filter": "datum.p == 'F'"}], "mark": {"type": "tick", "orient": "horizontal", "color": "black", "size": 44, "thickness": 2.5},
"encoding": {"y": {"field": "m", "type": "quantitative", "scale": {"domain": [0, 15], "range": [202, 35], "nice": false, "zero": false}}}},
{"data": {"name": "sum"}, "transform": [{"filter": "datum.p == 'F'"}], "mark": {"type": "tick", "orient": "horizontal", "color": "black", "size": 28, "thickness": 2},
"encoding": {"y": {"field": "lo", "type": "quantitative", "scale": {"domain": [0, 15], "range": [202, 35], "nice": false, "zero": false}}}},
{"data": {"name": "sum"}, "transform": [{"filter": "datum.p == 'F'"}], "mark": {"type": "tick", "orient": "horizontal", "color": "black", "size": 28, "thickness": 2},
"encoding": {"y": {"field": "hi", "type": "quantitative", "scale": {"domain": [0, 15], "range": [202, 35], "nice": false, "zero": false}}}}
]
}
]
}
